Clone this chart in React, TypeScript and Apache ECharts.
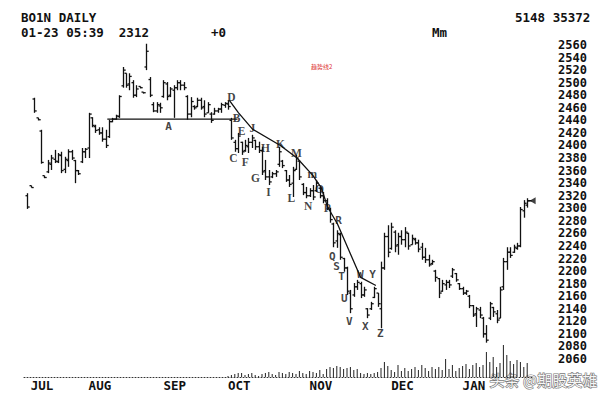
import { useEffect, useRef } from "react";
import * as echarts from "echarts";

// ---- data ----
const opens = [
  2320, 2336, 2474, 2444, 2423, 2352, 2358, 2370, 2378, 2374,
  2384, 2362, 2376, 2390, 2376, 2360, 2374, 2390, 2396, 2444,
  2430, 2425, 2420, 2410, 2414, 2438, 2442, 2446, 2495, 2515,
  2498, 2500, 2480, 2494, 2485, 2525, 2505, 2465, 2455, 2463,
  2478, 2498, 2480, 2488, 2492, 2500, 2496, 2478, 2450, 2462,
  2462, 2472, 2462, 2452, 2450, 2450, 2455, 2458, 2464, 2466,
  2440, 2405, 2395, 2405, 2392, 2398, 2405, 2408, 2398, 2392,
  2360, 2350, 2350, 2355, 2370, 2375, 2360, 2345, 2340, 2362,
  2375, 2338, 2325, 2320, 2328, 2328, 2332, 2320, 2312, 2298,
  2275, 2248, 2258, 2220, 2205, 2165, 2162, 2175, 2180, 2162,
  2140, 2140, 2158, 2165, 2140, 2205, 2255, 2236, 2262, 2242,
  2255, 2250, 2260, 2242, 2250, 2245, 2238, 2222, 2218, 2212,
  2200, 2188, 2168, 2178, 2182, 2192, 2196, 2180, 2172, 2165,
  2160, 2145, 2132, 2138, 2125, 2100, 2125, 2142, 2132, 2125,
  2175, 2215, 2230, 2230, 2236, 2240, 2296, 2305,
];
const highs = [
  2324, 2336, 2476, 2444, 2425, 2352, 2377, 2385, 2393, 2388,
  2390, 2382, 2394, 2393, 2377, 2361, 2396, 2396, 2452, 2445,
  2433, 2429, 2429, 2425, 2441, 2444, 2449, 2480, 2525, 2515,
  2515, 2504, 2496, 2494, 2485, 2562, 2509, 2469, 2469, 2468,
  2504, 2501, 2493, 2496, 2504, 2504, 2501, 2480, 2477, 2464,
  2476, 2476, 2472, 2469, 2453, 2460, 2460, 2468, 2469, 2472,
  2444, 2409, 2420, 2406, 2409, 2412, 2417, 2409, 2406, 2398,
  2377, 2361, 2358, 2361, 2398, 2377, 2361, 2353, 2366, 2385,
  2377, 2340, 2334, 2332, 2337, 2345, 2334, 2326, 2316, 2301,
  2277, 2265, 2261, 2221, 2207, 2170, 2181, 2186, 2183, 2175,
  2141, 2151, 2175, 2165, 2215, 2261, 2273, 2277, 2265, 2261,
  2265, 2270, 2261, 2258, 2253, 2250, 2245, 2237, 2226, 2218,
  2202, 2189, 2186, 2186, 2186, 2205, 2197, 2181, 2175, 2170,
  2162, 2146, 2143, 2143, 2127, 2114, 2151, 2143, 2138, 2175,
  2221, 2238, 2238, 2242, 2245, 2302, 2313, 2316,
];
const lows = [
  2299, 2333, 2452, 2440, 2371, 2348, 2356, 2361, 2372, 2372,
  2356, 2356, 2366, 2377, 2340, 2353, 2372, 2380, 2380, 2429,
  2420, 2417, 2406, 2396, 2412, 2437, 2441, 2444, 2492, 2492,
  2488, 2476, 2477, 2491, 2483, 2520, 2477, 2453, 2452, 2452,
  2476, 2472, 2477, 2444, 2488, 2488, 2488, 2441, 2445, 2457,
  2461, 2457, 2445, 2452, 2436, 2449, 2452, 2452, 2460, 2457,
  2409, 2390, 2388, 2385, 2390, 2388, 2396, 2393, 2388, 2353,
  2345, 2337, 2348, 2350, 2366, 2364, 2342, 2334, 2318, 2361,
  2345, 2321, 2316, 2318, 2313, 2326, 2316, 2308, 2297, 2277,
  2238, 2237, 2218, 2199, 2162, 2133, 2159, 2170, 2157, 2159,
  2125, 2138, 2157, 2143, 2109, 2202, 2222, 2234, 2230, 2226,
  2242, 2238, 2234, 2242, 2242, 2230, 2218, 2213, 2207, 2210,
  2183, 2157, 2167, 2170, 2173, 2189, 2183, 2170, 2162, 2162,
  2141, 2127, 2111, 2125, 2094, 2086, 2122, 2127, 2117, 2125,
  2170, 2202, 2221, 2229, 2234, 2238, 2285, 2301,
];
const closes = [
  2302, 2333, 2455, 2441, 2373, 2349, 2372, 2380, 2375, 2385,
  2360, 2378, 2390, 2380, 2360, 2355, 2390, 2394, 2450, 2432,
  2424, 2420, 2410, 2400, 2438, 2442, 2447, 2478, 2520, 2496,
  2510, 2480, 2490, 2492, 2484, 2550, 2480, 2455, 2465, 2460,
  2500, 2478, 2490, 2492, 2500, 2496, 2492, 2450, 2470, 2460,
  2472, 2460, 2450, 2465, 2440, 2455, 2458, 2465, 2467, 2462,
  2412, 2395, 2415, 2390, 2400, 2405, 2412, 2398, 2392, 2358,
  2350, 2342, 2355, 2358, 2390, 2368, 2345, 2338, 2360, 2380,
  2350, 2325, 2320, 2328, 2318, 2340, 2320, 2312, 2300, 2282,
  2245, 2260, 2222, 2205, 2168, 2140, 2175, 2182, 2162, 2170,
  2130, 2148, 2172, 2148, 2205, 2255, 2230, 2270, 2240, 2255,
  2250, 2262, 2240, 2252, 2245, 2235, 2222, 2218, 2210, 2215,
  2190, 2165, 2180, 2182, 2178, 2202, 2186, 2172, 2165, 2168,
  2145, 2130, 2140, 2130, 2100, 2090, 2148, 2135, 2122, 2170,
  2215, 2230, 2225, 2238, 2240, 2298, 2308, 2312,
];

const volumeStart = 59;
const volumes = [
  1, 2, 3, 4, 4, 2, 3, 4, 2, 1,
  3, 4, 5, 3, 2, 5, 4, 3, 5, 4,
  3, 6, 4, 3, 6, 5, 4, 7, 3, 8,
  10, 9, 11, 10, 8, 9, 10, 7, 8, 4,
  3, 4, 3, 4, 5, 9, 15, 11, 7, 5,
  12, 6, 9, 6, 8, 10, 7, 12, 9, 6,
  10, 8, 10, 7, 18, 8, 12, 6, 9, 11,
  13, 8, 12, 14, 10, 12, 25, 15, 20, 10,
  14, 32, 22, 16, 13, 17, 15, 10, 14,
];

const priceMin = 2060;
const priceMax = 2560;
const priceStep = 20;

const monthNames = ["JUL", "AUG", "SEP", "OCT", "NOV", "DEC", "JAN"];
const monthStarts = [1, 18, 40, 59, 83, 107, 128];

const supportLine = [
  [23.5, 2442],
  [61.8, 2442],
];
const trendLine = [
  [59.4, 2472],
  [62.1, 2452],
  [66.2, 2426],
  [74.4, 2400],
  [79.3, 2380],
  [84.0, 2352],
  [86.4, 2333],
  [88.3, 2302],
  [91.2, 2275],
  [98.0, 2190],
  [102.5, 2177],
];

const serifLabelNames = ["B", "C", "D", "E", "F", "G", "H", "I", "J", "K", "L", "M", "m", "N", "O", "P"];
const serifLabelX = [61.5, 60.6, 60.0, 63.0, 64.1, 67.1, 70.0, 70.9, 66.2, 74.4, 77.6, 79.1, 83.8, 82.6, 85.9, 88.2];
const serifLabelY = [2444, 2380, 2477, 2423, 2374, 2348, 2396, 2326, 2428, 2402, 2316, 2388, 2354, 2304, 2331, 2301];

const sansLabelNames = ["A", "Q", "R", "S", "T", "U", "V", "W", "X", "Y", "Z"];
const sansLabelX = [41.5, 89.7, 91.5, 90.9, 92.4, 93.2, 94.7, 97.9, 99.4, 101.5, 103.8];
const sansLabelY = [2430, 2224, 2280, 2207, 2191, 2156, 2119, 2194, 2111, 2194, 2100];

const lastClose = 2312;

const MONO = "'DejaVu Sans Mono', monospace";

export default function App() {
  const ref = useRef<HTMLDivElement>(null);

  useEffect(() => {
    document.body.style.margin = "0";
    if (!ref.current) return;
    const chart = echarts.init(ref.current, null, { renderer: "svg" });

    const ohlc = highs.map((h, i) => [i, opens[i], h, lows[i], closes[i]]);
    const vol = volumes.map((v, k) => [volumeStart + k, v]);
    const lineStyle = { stroke: "#111", lineWidth: 1.3 };

    const option: any = {
      animation: false,
      backgroundColor: "#fff",
      grid: [
        { left: 24, top: 45, width: 527, height: 314 },
        { left: 24, top: 337, width: 510, height: 40 },
      ],
      xAxis: [
        { type: "value", gridIndex: 0, min: -1, max: 154, show: false },
        {
          type: "value",
          gridIndex: 1,
          min: -1,
          max: 149,
          axisLine: { show: true, lineStyle: { color: "#333", type: [1, 2], width: 1 } },
          axisTick: { show: false },
          splitLine: { show: false },
          axisLabel: {
            customValues: monthStarts,
            formatter: (v: number) => monthNames[monthStarts.indexOf(Math.round(v))] ?? "",
            align: "left",
            margin: 2,
            color: "#111",
            fontFamily: MONO,
            fontWeight: "bold",
            fontSize: 12.5,
          },
        },
      ],
      yAxis: [
        {
          type: "value",
          gridIndex: 0,
          position: "right",
          min: priceMin,
          max: priceMax,
          interval: priceStep,
          axisLine: { show: false },
          axisTick: { show: false },
          splitLine: { show: false },
          axisLabel: {
            margin: 7,
            color: "#111",
            fontFamily: MONO,
            fontWeight: "bold",
            fontSize: 12,
            lineHeight: 12,
            showMinLabel: true,
            showMaxLabel: true,
            hideOverlap: false,
            formatter: (v: number) => String(v),
          },
        },
        { type: "value", gridIndex: 1, min: 0, max: 40, show: false },
      ],
      series: [
        {
          type: "custom",
          xAxisIndex: 0,
          yAxisIndex: 0,
          clip: false,
          data: ohlc,
          encode: { x: 0, y: [1, 2, 3, 4] },
          renderItem: (_p: any, api: any) => {
            const x = api.value(0);
            const pO = api.coord([x, api.value(1)]);
            const pH = api.coord([x, api.value(2)]);
            const pL = api.coord([x, api.value(3)]);
            const pC = api.coord([x, api.value(4)]);
            const cx = Math.round(pH[0]) + 0.5;
            const yL = Math.max(pL[1], pH[1] + 1.5);
            return {
              type: "group",
              children: [
                { type: "line", shape: { x1: cx, y1: pH[1], x2: cx, y2: yL }, style: lineStyle },
                { type: "line", shape: { x1: cx - 2, y1: pO[1], x2: cx, y2: pO[1] }, style: lineStyle },
                { type: "line", shape: { x1: cx, y1: pC[1], x2: cx + 2.2, y2: pC[1] }, style: lineStyle },
              ],
            };
          },
        },
        {
          type: "line",
          xAxisIndex: 0,
          yAxisIndex: 0,
          data: supportLine,
          symbol: "none",
          lineStyle: { color: "#111", width: 1.4 },
        },
        {
          type: "line",
          xAxisIndex: 0,
          yAxisIndex: 0,
          data: trendLine,
          symbol: "none",
          lineStyle: { color: "#111", width: 1.3 },
        },
        {
          type: "line",
          xAxisIndex: 0,
          yAxisIndex: 0,
          data: [
            [closes.length - 1, lastClose],
            [closes.length + 0.3, lastClose],
          ],
          symbol: "none",
          lineStyle: { color: "#111", width: 1.3 },
        },
        {
          type: "scatter",
          xAxisIndex: 0,
          yAxisIndex: 0,
          data: [[closes.length + 0.6, lastClose]],
          symbol: "path://M0,5L10,0L10,10Z",
          symbolSize: [6, 7],
          itemStyle: { color: "#111" },
        },
        {
          type: "scatter",
          xAxisIndex: 0,
          yAxisIndex: 0,
          symbolSize: 1,
          itemStyle: { color: "rgba(0,0,0,0)" },
          data: serifLabelNames.map((n, k) => ({ name: n, value: [serifLabelX[k], serifLabelY[k]] })),
          label: {
            show: true,
            position: "inside",
            formatter: "{b}",
            color: "#111",
            fontFamily: "'Liberation Serif', 'DejaVu Serif', serif",
            fontWeight: "bold",
            fontSize: 11.5,
            lineHeight: 11,
          },
        },
        {
          type: "scatter",
          xAxisIndex: 0,
          yAxisIndex: 0,
          symbolSize: 1,
          itemStyle: { color: "rgba(0,0,0,0)" },
          data: sansLabelNames.map((n, k) => ({ name: n, value: [sansLabelX[k], sansLabelY[k]] })),
          label: {
            show: true,
            position: "inside",
            formatter: "{b}",
            color: "#111",
            fontFamily: MONO,
            fontWeight: "bold",
            fontSize: 11,
            lineHeight: 11,
          },
        },
        {
          type: "bar",
          xAxisIndex: 1,
          yAxisIndex: 1,
          data: vol,
          barWidth: 1,
          itemStyle: { color: "#222" },
        },
      ],
      graphic: [
        { type: "text", left: 21, top: 11, style: { text: "BO1N DAILY", fill: "#111", font: `bold 12.5px ${MONO}` } },
        { type: "text", left: 21, top: 26, style: { text: "01-23 05:39  2312", fill: "#111", font: `bold 12.5px ${MONO}` } },
        { type: "text", left: 211, top: 26, style: { text: "+0", fill: "#111", font: `bold 12.5px ${MONO}` } },
        { type: "text", left: 515, top: 11, style: { text: "5148 35372", fill: "#111", font: `bold 12.5px ${MONO}` } },
        { type: "text", left: 432, top: 26, style: { text: "Mm", fill: "#111", font: `bold 12.5px ${MONO}` } },
        { type: "text", left: 311, top: 63, style: { text: "趋势线2", fill: "#d33", font: "6px 'Noto Sans CJK SC'" } },
        {
          type: "text",
          left: 489,
          top: 371,
          style: {
            text: "头条 @期股英雄",
            fill: "rgba(255,255,255,0.95)",
            stroke: "#777",
            lineWidth: 1.2,
            font: "15px 'Noto Sans CJK SC'",
          },
        },
      ],
    };

    chart.setOption(option);
    return () => chart.dispose();
  }, []);

  return <div ref={ref} style={{ width: 610, height: 397 }} />;
}
